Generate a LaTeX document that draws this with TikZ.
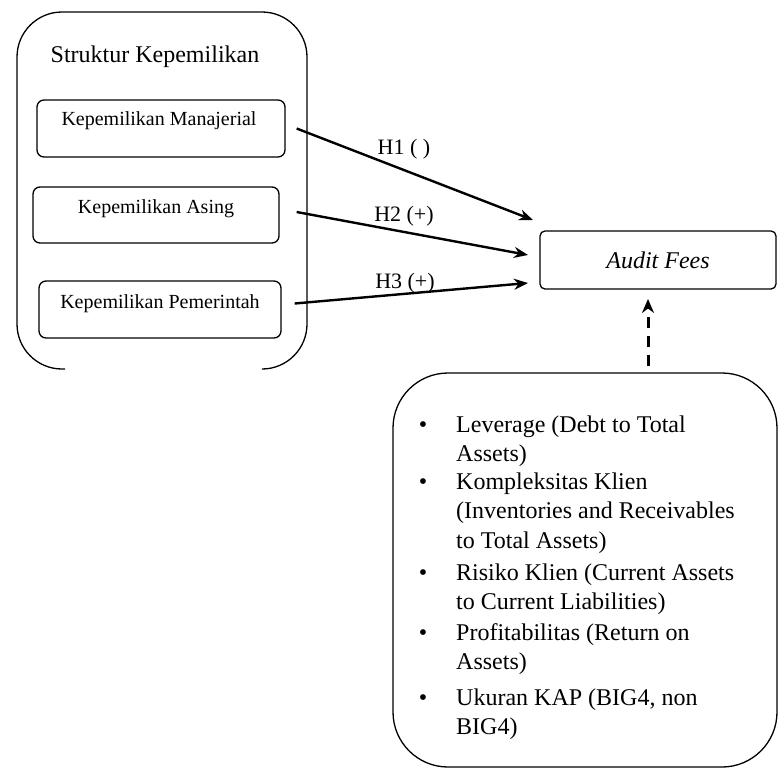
\documentclass[tikz,border=0pt]{standalone}
\usepackage{fontspec}
\setmainfont{Liberation Serif}
\usetikzlibrary{arrows.meta,calc}
\begin{document}
\begin{tikzpicture}[x=1pt,y=-1pt,
  bigframe/.style={line width=1.3pt},
  innerbox/.style={draw,line width=1.3pt,rounded corners=7pt,inner sep=0pt},
  boxtext/.style={font=\fontsize{20}{24}\selectfont,inner sep=0pt},
  hyp/.style={line width=2.4pt,-{Stealth[length=14pt,width=11pt]}},
  hlabel/.style={font=\fontsize{22}{26}\selectfont,inner sep=0pt},
  listtext/.style={font=\fontsize{24}{29.5}\selectfont,align=left,anchor=north west,inner sep=0pt},
  bulletmark/.style={font=\fontsize{24}{29.5}\selectfont,anchor=base,inner sep=0pt}]
\useasboundingbox (0,0) rectangle (778,769);

% left frame (open at the bottom middle)
\draw[bigframe,rounded corners=45pt] (65,369) -- (17,369) -- (17,12) -- (307,12) -- (307,369) -- (263,369);
\node[font=\fontsize{24}{28}\selectfont,inner sep=0pt] (title) at (155,57) {Struktur Kepemilikan};

\node[innerbox,minimum width=248pt,minimum height=57pt] (km) at (161,128.5) {};
\node[boxtext] (kmt) at (159,121) {Kepemilikan Manajerial};
\node[innerbox,minimum width=246pt,minimum height=56pt] (ka) at (156,215) {};
\node[boxtext] (kat) at (156,209) {Kepemilikan Asing};
\node[innerbox,minimum width=242pt,minimum height=57pt] (kp) at (160,309.5) {};
\node[boxtext] (kpt) at (160,304) {Kepemilikan Pemerintah};

% audit fees
\node[draw,line width=1.3pt,rounded corners=5pt,minimum width=236pt,minimum height=58pt,inner sep=0pt,
      font=\fontsize{24}{28}\selectfont\itshape] (af) at (658,260) {Audit Fees};

% hypothesis arrows
\coordinate (s1) at ($(km.east)+(11,0)$);
\coordinate (s2) at ($(ka.east)+(17,-3)$);
\coordinate (s3) at ($(kp.east)+(13,-6)$);
\coordinate (e1) at (533,220);
\coordinate (e2) at (528,255);
\coordinate (e3) at (528,283);
\draw[hyp] (s1) -- (e1);
\draw[hyp] (s2) -- (e2);
\draw[hyp] (s3) -- (e3);
\node[hlabel] (h1) at (404,149) {H1 ( )};
\node[hlabel] (h2) at (404,216) {H2 (+)};
\node[hlabel] (h3) at (405,283) {H3 (+)};

% control variables box
\draw[bigframe,rounded corners=55pt] (393,373) rectangle (777,767);
\coordinate (dstart) at (648,366);
\coordinate (dend) at (648,299);
\draw[line width=3pt,dash pattern=on 11pt off 8pt,-{Stealth[length=14pt,width=12pt]}] (dstart) -- (dend);

\node[bulletmark] (b1) at (423,432) {\textbullet};
\node[listtext] (l1) at (456,411.35) {\strut Leverage (Debt to Total\\Assets)};
\node[bulletmark] (b2) at (423,489) {\textbullet};
\node[listtext] (l2) at (456,468.35) {\strut Kompleksitas Klien\\(Inventories and Receivables\\to Total Assets)};
\node[bulletmark] (b3) at (423,580) {\textbullet};
\node[listtext] (l3) at (456,559.35) {\strut Risiko Klien (Current Assets\\to Current Liabilities)};
\node[bulletmark] (b4) at (423,640) {\textbullet};
\node[listtext] (l4) at (456,619.35) {\strut Profitabilitas (Return on\\Assets)};
\node[bulletmark] (b5) at (423,705) {\textbullet};
\node[listtext] (l5) at (456,684.35) {\strut Ukuran KAP (BIG4, non\\BIG4)};
\end{tikzpicture}
\end{document}
